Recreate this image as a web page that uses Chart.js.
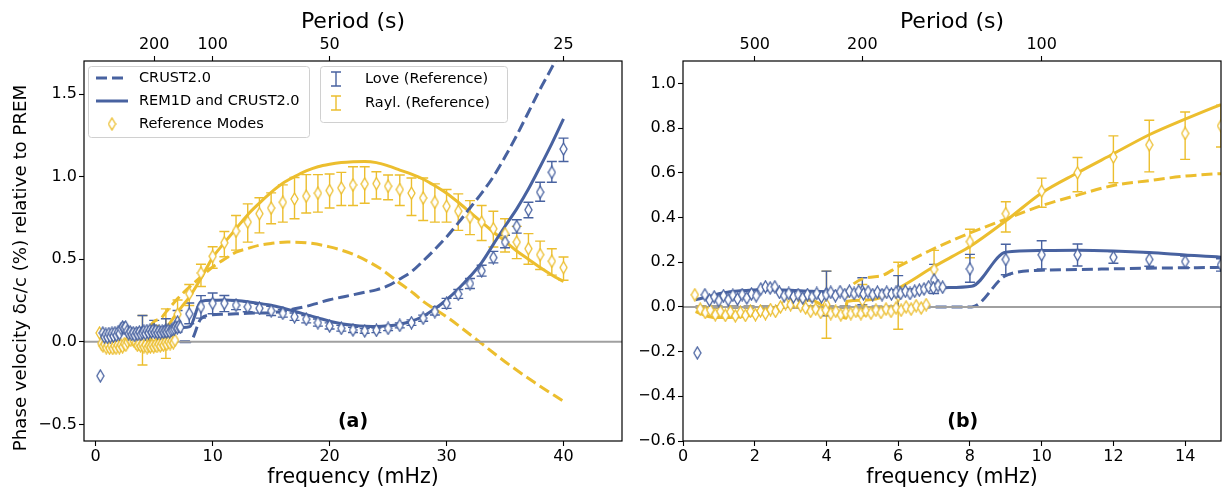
<!doctype html>
<html>

<head>
    <title>Phase velocity relative to PREM</title>
    <script src="https://cdn.jsdelivr.net/npm/chart.js@4/dist/chart.umd.min.js"></script>
    <style>
    body { margin: 0; background: #fff; }
    #wrap { position: relative; width: 1226px; height: 493px; }
    canvas { position: absolute; top: 0; }
    </style>
</head>

<body>
    <div id="wrap">
        <canvas id="chartA" width="640" height="493" style="left:0px"></canvas>
        <canvas id="chartB" width="586" height="493" style="left:640px"></canvas>
    </div>
    <script>
    // model curves (frequency in mHz, dc/c in %)
    var loveSolidF = [0.35, 0.7, 1.1, 1.6, 2.2, 2.8, 3.6, 4.5, 5.5, 6.5, 7.3, 8.05, 9, 10, 11, 12, 13, 14, 15, 16, 17, 18, 19, 20, 21, 22, 23, 24, 25, 26, 27, 28, 29, 30, 31, 32, 33, 34, 35, 36, 37, 38, 39, 40];
    var loveSolid = [0.032, 0.045, 0.062, 0.072, 0.077, 0.076, 0.070, 0.065, 0.070, 0.078, 0.086, 0.092, 0.245, 0.252, 0.253, 0.250, 0.243, 0.232, 0.222, 0.205, 0.185, 0.165, 0.145, 0.125, 0.110, 0.100, 0.094, 0.093, 0.097, 0.107, 0.125, 0.155, 0.200, 0.255, 0.320, 0.395, 0.480, 0.590, 0.700, 0.805, 0.925, 1.060, 1.200, 1.350];

    var loveDashF = [0.35, 8.05, 9, 10, 11, 12, 13, 14, 15, 16, 17, 18, 19, 20, 21, 22, 23, 24, 25, 26, 27, 28, 29, 30, 31, 32, 33, 34, 35, 36, 37, 38, 39, 40];
    var loveDash = [0, 0, 0.14, 0.164, 0.167, 0.17, 0.173, 0.175, 0.177, 0.185, 0.2, 0.215, 0.235, 0.255, 0.27, 0.285, 0.3, 0.315, 0.34, 0.38, 0.425, 0.49, 0.56, 0.635, 0.72, 0.81, 0.9, 1.0, 1.12, 1.25, 1.39, 1.53, 1.66, 1.8];

    var raySolidF = [0.35, 0.84, 1.3, 1.77, 2.2, 2.7, 3.16, 3.62, 3.99, 4.3, 4.55, 4.56, 5.0, 5.47, 5.94, 6.4, 6.86, 7.5, 8, 9, 10, 11, 12, 13, 14, 15, 16, 17, 18, 19, 20, 21, 22, 23, 24, 25, 26, 27, 28, 29, 30, 31, 32, 33, 34, 35, 36, 37, 38, 39, 40];
    var raySolid = [-0.021, -0.047, -0.047, -0.041, -0.025, -0.002, 0.032, 0.029, -0.006, -0.03, -0.051, 0.024, 0.03, 0.039, 0.077, 0.12, 0.167, 0.225, 0.27, 0.385, 0.51, 0.6, 0.685, 0.77, 0.84, 0.905, 0.96, 1.0, 1.035, 1.06, 1.075, 1.085, 1.09, 1.092, 1.085, 1.065, 1.04, 1.015, 0.985, 0.945, 0.9, 0.845, 0.785, 0.725, 0.665, 0.61, 0.55, 0.5, 0.45, 0.405, 0.365];

    var rayDashF = [0.35, 4.55, 4.6, 5.47, 6.0, 6.86, 7.69, 9, 10, 11, 12, 13, 14, 15, 16.4, 18, 20, 22, 24.3, 26, 27.2, 28, 30, 32.6, 35, 37.5, 40];
    var rayDash = [0, 0, 0.077, 0.137, 0.18, 0.25, 0.31, 0.393, 0.453, 0.5, 0.543, 0.565, 0.585, 0.596, 0.604, 0.6, 0.575, 0.53, 0.445, 0.355, 0.293, 0.245, 0.152, 0.012, -0.12, -0.245, -0.36];

    // reference measurements with error bars
    var refF = [4, 5, 6, 7, 8, 9, 10, 11, 12, 13, 14, 15, 16, 17, 18, 19, 20, 21, 22, 23, 24, 25, 26, 27, 28, 29, 30, 31, 32, 33, 34, 35, 36, 37, 38, 39, 40];
    var loveRef = [0.06, 0.07, 0.07, 0.12, 0.17, 0.212, 0.233, 0.233, 0.222, 0.212, 0.203, 0.188, 0.173, 0.152, 0.137, 0.116, 0.096, 0.082, 0.072, 0.066, 0.07, 0.082, 0.1, 0.116, 0.143, 0.183, 0.233, 0.289, 0.353, 0.43, 0.51, 0.604, 0.699, 0.799, 0.906, 1.026, 1.167];
    var loveLo = [-0.04, 0.01, 0.0, 0.06, 0.11, 0.144, 0.17, 0.183, 0.195, 0.182, 0.175, 0.16, 0.15, 0.13, 0.115, 0.095, 0.078, 0.065, 0.057, 0.052, 0.056, 0.068, 0.085, 0.1, 0.125, 0.163, 0.203, 0.263, 0.323, 0.398, 0.478, 0.57, 0.658, 0.751, 0.851, 0.966, 1.092];
    var loveHi = [0.16, 0.13, 0.14, 0.19, 0.235, 0.28, 0.296, 0.281, 0.248, 0.242, 0.227, 0.215, 0.195, 0.175, 0.16, 0.138, 0.115, 0.1, 0.088, 0.08, 0.084, 0.096, 0.115, 0.133, 0.162, 0.213, 0.263, 0.317, 0.384, 0.464, 0.548, 0.645, 0.739, 0.845, 0.966, 1.092, 1.233];
    var rayRef = [0.01, 0.03, 0.05, 0.167, 0.292, 0.417, 0.518, 0.6, 0.67, 0.725, 0.776, 0.81, 0.845, 0.865, 0.882, 0.9, 0.916, 0.932, 0.95, 0.956, 0.958, 0.942, 0.922, 0.9, 0.871, 0.845, 0.821, 0.791, 0.755, 0.725, 0.685, 0.655, 0.604, 0.564, 0.528, 0.488, 0.45];
    var rayLo = [-0.14, -0.04, -0.1, 0.08, 0.22, 0.335, 0.446, 0.515, 0.555, 0.604, 0.66, 0.715, 0.725, 0.745, 0.78, 0.785, 0.81, 0.825, 0.825, 0.839, 0.865, 0.86, 0.825, 0.765, 0.735, 0.725, 0.725, 0.675, 0.649, 0.614, 0.574, 0.544, 0.504, 0.47, 0.438, 0.404, 0.373];
    var rayHi = [0.16, 0.1, 0.2, 0.253, 0.347, 0.47, 0.576, 0.668, 0.765, 0.835, 0.872, 0.902, 0.95, 0.995, 1.012, 1.012, 1.016, 1.026, 1.06, 1.06, 1.03, 1.01, 1.01, 0.992, 0.992, 0.956, 0.922, 0.896, 0.855, 0.825, 0.791, 0.745, 0.699, 0.655, 0.61, 0.564, 0.514];

    // low-frequency reference modes (no error bars)
    var loveModeF = [0.40, 0.61, 0.74, 0.87, 1.00, 1.13, 1.26, 1.39, 1.52, 1.65, 1.78, 1.91, 2.04, 2.17, 2.30, 2.43, 2.56, 2.69, 2.82, 2.95, 3.08, 3.21, 3.34, 3.47, 3.60, 3.73, 3.86, 3.99, 4.12, 4.25, 4.38, 4.51, 4.64, 4.77, 4.90, 5.03, 5.16, 5.29, 5.42, 5.55, 5.68, 5.81, 5.94, 6.07, 6.20, 6.33, 6.46, 6.59, 6.72, 6.85, 6.98, 7.11, 7.24];
    var loveMode = [-0.206, 0.054, 0.03, 0.045, 0.028, 0.05, 0.032, 0.052, 0.035, 0.055, 0.04, 0.058, 0.05, 0.08, 0.09, 0.085, 0.09, 0.065, 0.05, 0.06, 0.045, 0.055, 0.04, 0.055, 0.045, 0.06, 0.045, 0.055, 0.065, 0.05, 0.068, 0.055, 0.07, 0.06, 0.07, 0.058, 0.068, 0.055, 0.066, 0.055, 0.065, 0.058, 0.065, 0.06, 0.07, 0.06, 0.07, 0.075, 0.08, 0.09, 0.085, 0.095, 0.088];
    var rayModeF = [0.33, 0.48, 0.62, 0.76, 0.90, 1.04, 1.18, 1.32, 1.46, 1.60, 1.74, 1.88, 2.02, 2.16, 2.30, 2.44, 2.58, 2.72, 2.86, 3.00, 3.14, 3.28, 3.42, 3.56, 3.70, 3.84, 3.98, 4.12, 4.26, 4.40, 4.54, 4.68, 4.82, 4.96, 5.10, 5.24, 5.38, 5.52, 5.66, 5.80, 5.94, 6.08, 6.22, 6.36, 6.50, 6.64, 6.78];
    var rayMode = [0.054, -0.01, -0.025, -0.015, -0.035, -0.02, -0.038, -0.022, -0.04, -0.025, -0.038, -0.02, -0.035, -0.018, -0.03, -0.012, -0.02, 0.0, 0.015, 0.01, 0.02, 0.005, -0.005, -0.02, -0.01, -0.025, -0.015, -0.03, -0.02, -0.035, -0.025, -0.03, -0.02, -0.03, -0.018, -0.028, -0.015, -0.025, -0.01, -0.02, -0.005, -0.015, 0.0, -0.01, 0.005, -0.005, 0.01];

    // axis ticks
    var ticksXA = [0, 10, 20, 30, 40];
    var ticksYA = [-0.5, 0, 0.5, 1.0, 1.5];
    var periodsA = [200, 100, 50, 25];
    var ticksXB = [0, 2, 4, 6, 8, 10, 12, 14];
    var ticksYB = [-0.6, -0.4, -0.2, 0, 0.2, 0.4, 0.6, 0.8, 1.0];
    var periodsB = [500, 200, 100];

    var BLUE = '#4862a0';
    var YELLOW = '#ecbe2e';
    var FONT = '"DejaVu Sans", sans-serif';
    Chart.defaults.font.family = FONT;
    Chart.defaults.color = '#000';

    function pts(xs, ys) {
        return xs.map(function(x, i) { return {x: x, y: ys[i]}; });
    }

    function diamond(color) {
        var c = document.createElement('canvas');
        c.width = 9; c.height = 14;
        var g = c.getContext('2d');
        g.beginPath();
        g.moveTo(4.5, 1); g.lineTo(8, 7); g.lineTo(4.5, 13); g.lineTo(1, 7); g.closePath();
        g.fillStyle = '#fff'; g.fill();
        g.strokeStyle = color; g.lineWidth = 1.3; g.stroke();
        return c;
    }
    var diaBlue = diamond(BLUE);
    var diaYellow = diamond(YELLOW);

    function fmt1(v) { return v.toFixed(1).replace('-', '\u2212'); }

    var errorBars = {
        id: 'errorBars',
        beforeDatasetsDraw: function(chart) {
            var ctx = chart.ctx, a = chart.chartArea, sx = chart.scales.x, sy = chart.scales.y;
            ctx.save();
            ctx.beginPath();
            ctx.rect(a.left, a.top, a.right - a.left, a.bottom - a.top);
            ctx.clip();
            ctx.lineWidth = 1.4;
            [[rayLo, rayHi, YELLOW], [loveLo, loveHi, BLUE]].forEach(function(set) {
                ctx.strokeStyle = set[2];
                refF.forEach(function(f, i) {
                    var px = sx.getPixelForValue(f);
                    var y0 = sy.getPixelForValue(set[0][i]);
                    var y1 = sy.getPixelForValue(set[1][i]);
                    ctx.beginPath();
                    ctx.moveTo(px, y0); ctx.lineTo(px, y1);
                    ctx.moveTo(px - 5, y0); ctx.lineTo(px + 5, y0);
                    ctx.moveTo(px - 5, y1); ctx.lineTo(px + 5, y1);
                    ctx.stroke();
                });
            });
            ctx.restore();
        }
    };

    function legendBox(ctx, x, y, w, h) {
        ctx.save();
        ctx.fillStyle = 'rgba(255,255,255,0.8)';
        ctx.strokeStyle = '#d0d0d0';
        ctx.lineWidth = 1;
        ctx.beginPath();
        ctx.roundRect(x + 0.5, y + 0.5, w, h, 3);
        ctx.fill(); ctx.stroke();
        ctx.restore();
    }

    var decor = {
        id: 'decor',
        afterDatasetsDraw: function(chart, args, o) {
            var ctx = chart.ctx, a = chart.chartArea;
            ctx.save();
            ctx.strokeStyle = '#000';
            ctx.lineWidth = 1.2;
            ctx.strokeRect(a.left, a.top, a.right - a.left, a.bottom - a.top);

            ctx.fillStyle = '#000';
            ctx.font = 'bold 19px ' + FONT;
            ctx.textAlign = 'center';
            ctx.textBaseline = 'middle';
            ctx.fillText(o.tag, a.left + o.tagFrac * (a.right - a.left), a.bottom - 19);

            if (o.yTitle) {
                ctx.save();
                ctx.font = '18.2px ' + FONT;
                ctx.translate(21, 268);
                ctx.rotate(-Math.PI / 2);
                ctx.fillText(o.yTitle, 0, 0);
                ctx.restore();
            }

            if (o.legend) {
                ctx.font = '14.5px ' + FONT;
                ctx.textAlign = 'left';
                legendBox(ctx, 88, 66, 221, 71);
                ctx.lineWidth = 3;
                ctx.strokeStyle = BLUE;
                ctx.setLineDash([11, 5]);
                ctx.beginPath(); ctx.moveTo(96, 78); ctx.lineTo(128, 78); ctx.stroke();
                ctx.setLineDash([]);
                ctx.beginPath(); ctx.moveTo(96, 101); ctx.lineTo(128, 101); ctx.stroke();
                ctx.drawImage(diaYellow, 112 - 4.5, 124 - 7);
                ctx.fillText('CRUST2.0', 139, 78);
                ctx.fillText('REM1D and CRUST2.0', 139, 101);
                ctx.fillText('Reference Modes', 139, 124);

                legendBox(ctx, 320, 66, 187, 56);
                ctx.lineWidth = 1.4;
                [[79, BLUE, 'Love (Reference)'], [103, YELLOW, 'Rayl. (Reference)']].forEach(function(r) {
                    ctx.strokeStyle = r[1];
                    ctx.beginPath();
                    ctx.moveTo(336, r[0] - 7); ctx.lineTo(336, r[0] + 7);
                    ctx.moveTo(331, r[0] - 7); ctx.lineTo(341, r[0] - 7);
                    ctx.moveTo(331, r[0] + 7); ctx.lineTo(341, r[0] + 7);
                    ctx.stroke();
                    ctx.fillText(r[2], 365, r[0]);
                });
            }
            ctx.restore();
        }
    };

    function datasets(p) {
        var line = function(xs, ys, color, dash, order) {
            return {
                data: pts(xs, ys), showLine: true, pointRadius: 0, borderColor: color,
                borderWidth: 3, borderDash: dash, cubicInterpolationMode: 'monotone',
                fill: false, order: order, clip: 0
            };
        };
        var marks = function(xs, ys, img, order) {
            return {
                data: pts(xs, ys), showLine: false, pointStyle: img, pointRadius: 4,
                order: order, clip: 0
            };
        };
        return [
            marks(loveModeF, loveMode, diaBlue, 0),
            marks(refF, loveRef, diaBlue, 1),
            marks(rayModeF, rayMode, diaYellow, 2),
            marks(refF, rayRef, diaYellow, 3),
            {
                data: [{x: p.xMin, y: 0}, {x: p.xMax, y: 0}], showLine: true, pointRadius: 0,
                borderColor: '#a0a0a0', borderWidth: 2, order: 4, clip: 0
            },
            line(loveSolidF, loveSolid, BLUE, [], 5),
            line(loveDashF, loveDash, BLUE, [11, 5], 6),
            line(raySolidF, raySolid, YELLOW, [], 7),
            line(rayDashF, rayDash, YELLOW, [11, 5], 8)
        ];
    }

    function build(id, p) {
        var tickGrid = {drawOnChartArea: false, tickLength: 5, tickColor: '#000', tickWidth: 1.1};
        return new Chart(document.getElementById(id), {
            type: 'scatter',
            data: {datasets: datasets(p)},
            options: {
                responsive: false,
                animation: false,
                devicePixelRatio: 1,
                layout: {padding: {left: 0, right: p.padRight, top: 0, bottom: 0}},
                plugins: {legend: {display: false}, tooltip: {enabled: false}, decor: p},
                scales: {
                    x: {
                        type: 'linear', position: 'bottom', min: p.xMin, max: p.xMax,
                        afterBuildTicks: function(s) { s.ticks = p.xTicks.map(function(v) { return {value: v}; }); },
                        afterFit: function(s) { s.height = 52; },
                        ticks: {autoSkip: false, maxRotation: 0, padding: 1, font: {size: 16},
                            callback: function(v) { return String(v); }},
                        grid: tickGrid,
                        border: {display: false},
                        title: {display: true, text: 'frequency (mHz)', font: {size: 20.5}, padding: {top: 0, bottom: 3}}
                    },
                    x2: {
                        type: 'linear', position: 'top', min: p.xMin, max: p.xMax,
                        afterBuildTicks: function(s) { s.ticks = p.periods.map(function(T) { return {value: 1000 / T}; }); },
                        afterFit: function(s) { s.height = 61; },
                        ticks: {autoSkip: false, maxRotation: 0, padding: 2, font: {size: 16},
                            callback: function(v) { return String(Math.round(1000 / v)); }},
                        grid: tickGrid,
                        border: {display: false},
                        title: {display: true, text: 'Period (s)', font: {size: 22}, padding: {top: 9, bottom: 0}}
                    },
                    y: {
                        type: 'linear', position: 'left', min: p.yMin, max: p.yMax,
                        afterBuildTicks: function(s) { s.ticks = p.yTicks.map(function(v) { return {value: v}; }); },
                        afterFit: function(s) { s.width = p.yWidth; },
                        ticks: {autoSkip: false, padding: 2, font: {size: 16}, callback: fmt1},
                        grid: tickGrid,
                        border: {display: false}
                    }
                }
            },
            plugins: [errorBars, decor]
        });
    }

    window.onload = function() {
        window.chartA = build('chartA', {
            xMin: -1, xMax: 45, yMin: -0.6, yMax: 1.7,
            xTicks: ticksXA, yTicks: ticksYA, periods: periodsA,
            yWidth: 84, padRight: 18, tag: '(a)', tagFrac: 0.5, legend: true,
            yTitle: 'Phase velocity \u03b4c/c (%) relative to PREM'
        });
        window.chartB = build('chartB', {
            xMin: 0, xMax: 15, yMin: -0.6, yMax: 1.1,
            xTicks: ticksXB, yTicks: ticksYB, periods: periodsB,
            yWidth: 43, padRight: 4, tag: '(b)', tagFrac: 0.52, legend: false
        });
    };
    </script>
</body>

</html>
